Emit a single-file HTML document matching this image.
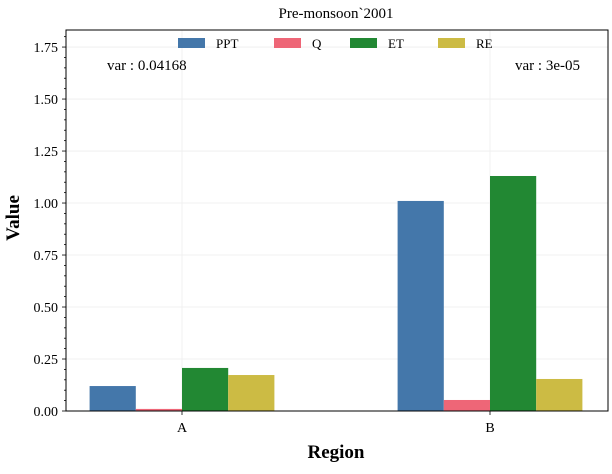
<!DOCTYPE html>
<html><head><meta charset="utf-8"><style>
body{margin:0;background:#fff;}
svg text{font-family:"Liberation Serif",serif;fill:#000;}
</style></head><body>
<svg id="chart" width="612" height="469"></svg>
<script>
const categories = ["A", "B"];
const seriesNames = ["PPT", "Q", "ET", "RE"];
const seriesColors = ["#4477aa", "#ee6677", "#228833", "#ccbb44"];
const ppt = [0.12, 1.01];
const q = [0.01, 0.053];
const et = [0.207, 1.13];
const re = [0.173, 0.154];
const variances = ["var : 0.04168", "var : 3e-05"];
const yTicks = [0, 0.25, 0.5, 0.75, 1.0, 1.25, 1.5, 1.75];
const yTickLabels = ["0.00","0.25","0.50","0.75","1.00","1.25","1.50","1.75"];
const yMax = 1.832;

const svg = document.getElementById('chart');
const NS = 'http://www.w3.org/2000/svg';
const L = 66, R = 608, T = 30, B = 411;
function y(v){ return B - v/yMax*(B-T); }
const catX = [182, 490];
function x(i){ return catX[i]; }
const bw = 46.2;
function mk(tag, attrs, parent){ const e = document.createElementNS(NS, tag); for (const k in attrs) e.setAttribute(k, attrs[k]); (parent||svg).appendChild(e); return e; }

// grid
yTicks.forEach(v => { const g = mk('line',{x1:L,x2:R,y1:y(v),y2:y(v),stroke:'#eee','stroke-width':0.8});

 });
categories.forEach((c,i) => { const g = mk('line',{x1:x(i),x2:x(i),y1:T,y2:B,stroke:'#eee','stroke-width':0.8});

 });

// bars
const allSeries = [ppt, q, et, re];
allSeries.forEach((s, si) => {
  s.forEach((v, ci) => {
    const bx = x(ci) - 2*bw + si*bw;
    const r = mk('rect',{x:bx,y:y(v),width:bw,height:B-y(v),fill:seriesColors[si]});
    
    
  });
});

// axes frame
const fr = mk('rect',{x:L,y:T,width:R-L,height:B-T,fill:'none',stroke:'#000','stroke-width':1});



// y ticks
for (let k=0;k<=36;k++){ const v=k*0.05; if (v>yMax) break;
  const major = k%5===0;
  mk('line',{x1:L-(major?4:2),x2:L,y1:y(v),y2:y(v),stroke:'#000','stroke-width':0.8});
}
yTicks.forEach((v,i) => { const t = mk('text',{x:L-8,y:y(v)+5,'text-anchor':'end','font-size':14});
t.textContent = yTickLabels[i];

 });
categories.forEach((c,i) => {
  mk('line',{x1:x(i),x2:x(i),y1:B,y2:B+4,stroke:'#000','stroke-width':0.8});
  const t = mk('text',{x:x(i),y:B+21,'text-anchor':'middle','font-size':14});
  t.textContent = c;
  
  
});

// variance labels
const v1 = mk('text',{x:107,y:70,'font-size':15}); v1.textContent = variances[0];


const v2 = mk('text',{x:580,y:70,'font-size':15,'text-anchor':'end'}); v2.textContent = variances[1];



// legend
const legX = [178, 274, 350, 438];
seriesNames.forEach((n,i) => {
  const g = mk('g',{});
  
  
  mk('rect',{x:legX[i],y:38,width:27,height:10,fill:seriesColors[i]},g);
  const t = mk('text',{x:legX[i]+38,y:48,'font-size':13},g); t.textContent = n;
});

// titles
const tt = mk('text',{x:336,y:18,'text-anchor':'middle','font-size':15}); tt.textContent = 'Pre-monsoon`2001';


const xt = mk('text',{x:336,y:458,'text-anchor':'middle','font-size':19,'font-weight':'bold'}); xt.textContent = 'Region';


const yt = mk('text',{x:0,y:0,'text-anchor':'middle','font-size':19,'font-weight':'bold',transform:'translate(19,218) rotate(-90)'}); yt.textContent = 'Value';


</script>
</body></html>
